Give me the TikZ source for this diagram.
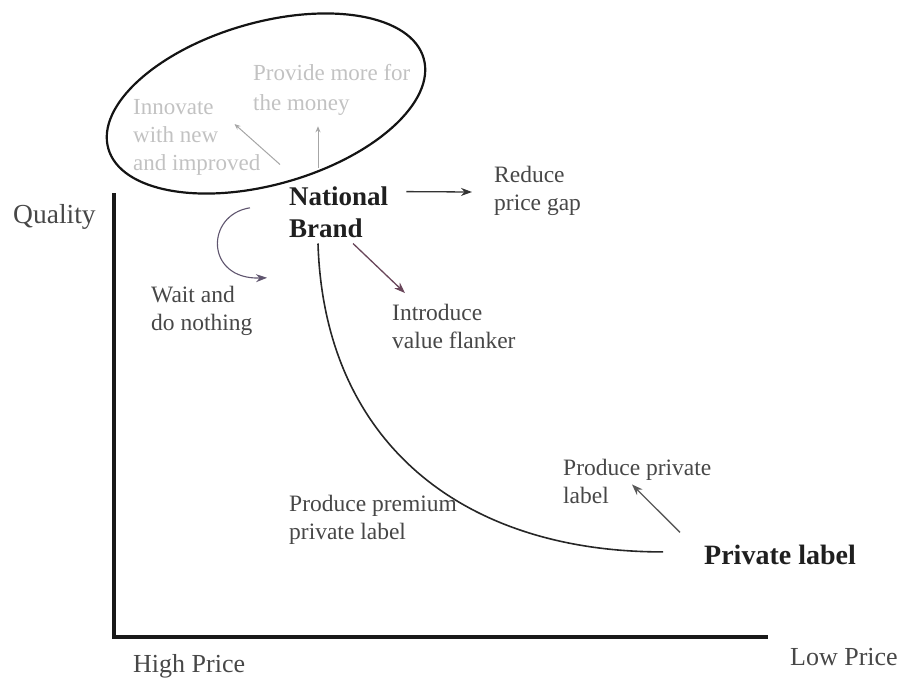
\documentclass[tikz,border=0pt]{standalone}
\usepackage{fontspec}
\setmainfont{Liberation Serif}
\usetikzlibrary{arrows.meta,calc}
\definecolor{introcol}{RGB}{105,70,90}
\definecolor{waitcol}{RGB}{95,85,110}
\begin{document}
\begin{tikzpicture}[x=1pt,y=-1pt,
  txt/.style={font=\fontsize{23.5}{28}\selectfont, text=black!72, align=left, inner sep=0pt, anchor=west},
  faint/.style={font=\fontsize{23}{28}\selectfont, text=black!24, align=left, inner sep=0pt, anchor=west},
  boldtxt/.style={font=\fontsize{27}{32}\selectfont\bfseries, text=black!88, align=left, inner sep=0pt},
  axlab/.style={font=\fontsize{26}{30}\selectfont, text=black!72, inner sep=0pt, anchor=base west},
  arr/.style={-{Stealth[length=11pt,width=8pt]}, line width=1.3pt},
  faintarr/.style={-{Stealth[length=6pt,width=5pt]}, line width=1pt, black!35}]
\useasboundingbox (0,0) rectangle (898,678);

% axes
\coordinate (ytop) at (114,193);
\coordinate (origin) at (114,637);
\coordinate (xend) at (768,637);
\draw[line width=3.5pt, black!90] (ytop) -- (origin) -- (xend);

% labels
\node[axlab, font=\fontsize{27.5}{30}\selectfont] (quality) at (13,223) {Quality};
\node[axlab] (high) at (133,672) {High Price};
\node[axlab] (low) at (790,665) {Low Price};

\node[boldtxt, anchor=west] (national) at (289,211.8) {National\\Brand};
\node[boldtxt, font=\fontsize{28}{32}\selectfont\bfseries, anchor=base west] (private) at (704,564) {Private label};

\node[txt] (reduce) at (494,191) {Reduce\\price gap};
\node[txt] (introduce) at (392,326.5) {Introduce\\value flanker};
\node[txt] (wait) at (151,310.5) {Wait and\\do nothing};
\node[txt] (premium) at (289,519.5) {Produce premium\\private label};
\node[txt] (prodpriv) at (563,481) {Produce private\\label};

% ellipse with faint texts
\draw[line width=2.2pt, black!92, rotate around={16:(266,103.5)}] (266,103.5) ellipse [x radius=164, y radius=81];
\node[faint] (innovate) at (133,137.5) {Innovate\\with new\\and improved};
\node[faint, font=\fontsize{23}{30}\selectfont] (provide) at (253,89.5) {Provide more for\\the money};
\draw[faintarr] ($(national.north west)+(-9,-21.6)$) -- ($(innovate.east)+(-26,-13.5)$);
\draw[faintarr] ($(national.north west)+(29,-18.6)$) -- ($(provide.south west)+(65,11)$);

% connectors
\draw[arr, black!80] ($(national.north east)+(18,5.5)$) -- ($(reduce.west)+(-22,1)$);
\draw[arr, introcol] ($(national.south west)+(64,6)$) -- ($(introduce.north west)+(13,-11)$);
\draw[arr, waitcol, line width=1.1pt] ($(national.west)+(-39,-4)$) .. controls +(-45,7) and +(-62,2) .. ($(national.west)+(-22,66)$);
\draw[line width=1.6pt, black!85] ($(national.south west)+(29,6)$) .. controls +(6,197) and +(-203,0) .. ($(private.west)+(-41,-2.5)$);
\draw[arr, black!65] ($(private.north west)+(-24,-12)$) -- ($(prodpriv.south west)+(69,-19)$);
\end{tikzpicture}
\end{document}
